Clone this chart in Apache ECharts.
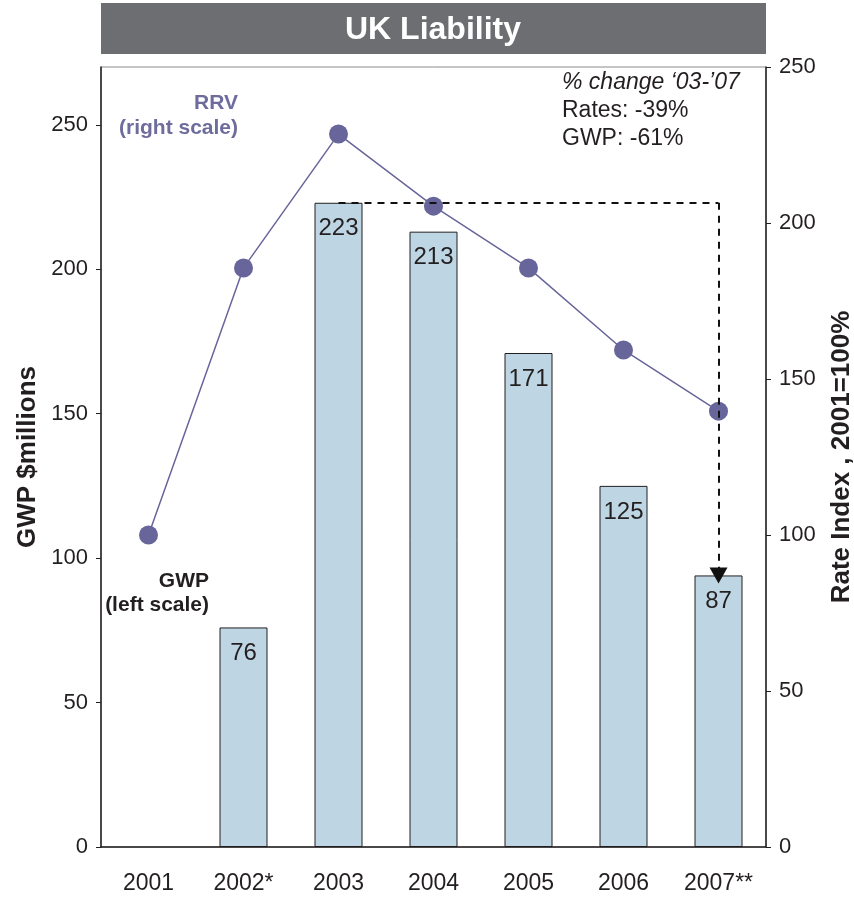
<!DOCTYPE html>
<html>
<head>
<meta charset="utf-8">
<script src="https://cdn.jsdelivr.net/npm/echarts@6/dist/echarts.min.js"></script>
<style>
  html, body { margin: 0; padding: 0; background: #fff; }
  #chart { width: 854px; height: 898px; }
</style>
</head>
<body>
<div id="chart"></div>
<script>
// data
const years = ['2001', '2002*', '2003', '2004', '2005', '2006', '2007**']
const gwp = [null, 76, 223, 213, 171, 125, 94]          // bar heights as drawn, left scale
const gwpLabels = ['', '76', '223', '213', '171', '125', '87'] // printed values
const rrv = [100, 185.6, 228.5, 205.4, 185.6, 159.3, 139.7] // right scale
const leftTicks = [0, 50, 100, 150, 200, 250]
const rightTicks = [0, 50, 100, 150, 200, 250]

const dark = '#231F20'
const purple = '#67659A'
const font = 'Liberation Sans, Arial, sans-serif'

const chart = echarts.init(document.getElementById('chart'))

let option = {
  animation: false,
  textStyle: { fontFamily: font },
  grid: {
    left: 101, right: 88, top: 67, bottom: 51,
    outerBoundsMode: 'none',
    show: true,
    borderColor: '#8a8a8a',
    borderWidth: 1
  },
  xAxis: {
    type: 'category',
    data: years,
    axisLine: { lineStyle: { color: dark, width: 1.5 } },
    axisTick: { show: false },
    axisLabel: { color: dark, fontSize: 23, margin: 25, fontFamily: font }
  },
  yAxis: [
    {
      type: 'value',
      min: 0, max: 270, interval: 50,
      name: 'GWP $millions',
      nameLocation: 'middle',
      nameGap: 58,
      nameTextStyle: { fontSize: 26, fontWeight: 'bold', color: dark, fontFamily: font },
      axisLine: { show: true, lineStyle: { color: dark, width: 1.5 } },
      axisTick: { show: true, length: 5, customValues: leftTicks, lineStyle: { color: dark } },
      splitLine: { show: false },
      axisLabel: {
        color: dark, fontSize: 22, margin: 13, fontFamily: font,
        customValues: leftTicks
      }
    },
    {
      type: 'value',
      min: 0, max: 250, interval: 50,
      position: 'right',
      name: 'Rate Index , 2001=100%',
      nameLocation: 'middle',
      nameGap: 63,
      nameRotate: 90,
      nameTextStyle: { fontSize: 26, fontWeight: 'bold', color: dark, fontFamily: font },
      axisLine: { show: true, lineStyle: { color: dark, width: 1.5 } },
      axisTick: { show: true, length: 5, customValues: rightTicks, lineStyle: { color: dark } },
      splitLine: { show: false },
      axisLabel: {
        color: dark, fontSize: 22, margin: 13, fontFamily: font,
        customValues: rightTicks
      }
    }
  ],
  series: [
    {
      type: 'bar',
      yAxisIndex: 0,
      data: gwp,
      barWidth: 48,
      itemStyle: { color: '#BED5E3', borderColor: dark, borderWidth: 1 },
      label: {
        show: true,
        position: 'insideTop',
        distance: 14,
        fontSize: 24,
        color: dark,
        fontFamily: font,
        formatter: p => gwpLabels[p.dataIndex]
      },
      markLine: {
        silent: true,
        z: 10,
        label: { show: false },
        lineStyle: { color: '#111', type: [7, 6], width: 2 },
        data: [
          [
            { coord: ['2003', 223], symbol: 'none' },
            { coord: ['2007**', 223], symbol: 'none' }
          ],
          [
            { coord: ['2007**', 223], symbol: 'none' },
            { coord: ['2007**', 94], symbol: 'triangle', symbolSize: [18, 16], symbolRotate: 180 }
          ]
        ]
      }
    },
    {
      type: 'line',
      yAxisIndex: 1,
      data: rrv,
      symbol: 'circle',
      symbolSize: 19,
      lineStyle: { color: purple, width: 1.5 },
      itemStyle: { color: purple },
      z: 3
    }
  ],
  graphic: [
    {
      type: 'rect',
      shape: { x: 101, y: 3, width: 665, height: 51 },
      style: { fill: '#6D6E71' }
    },
    {
      type: 'text',
      x: 433, y: 30,
      style: {
        text: 'UK Liability', fill: '#fff', font: 'bold 32px ' + font,
        textAlign: 'center', textVerticalAlign: 'middle'
      }
    },
    {
      type: 'text', x: 238, y: 103,
      style: { text: 'RRV', fill: '#6E6C9C', font: 'bold 21px ' + font, textAlign: 'right', textVerticalAlign: 'middle' }
    },
    {
      type: 'text', x: 238, y: 128,
      style: { text: '(right scale)', fill: '#6E6C9C', font: 'bold 21px ' + font, textAlign: 'right', textVerticalAlign: 'middle' }
    },
    {
      type: 'text', x: 209, y: 581,
      style: { text: 'GWP', fill: dark, font: 'bold 21px ' + font, textAlign: 'right', textVerticalAlign: 'middle' }
    },
    {
      type: 'text', x: 209, y: 605,
      style: { text: '(left scale)', fill: dark, font: 'bold 21px ' + font, textAlign: 'right', textVerticalAlign: 'middle' }
    },
    {
      type: 'text', x: 562, y: 83,
      style: { text: '% change ‘03-’07', fill: dark, font: 'italic 23px ' + font, textAlign: 'left', textVerticalAlign: 'middle' }
    },
    {
      type: 'text', x: 562, y: 111,
      style: { text: 'Rates: -39%', fill: dark, font: '23px ' + font, textAlign: 'left', textVerticalAlign: 'middle' }
    },
    {
      type: 'text', x: 562, y: 139,
      style: { text: 'GWP: -61%', fill: dark, font: '23px ' + font, textAlign: 'left', textVerticalAlign: 'middle' }
    }
  ]
}

chart.setOption(option)
</script>
</body>
</html>
